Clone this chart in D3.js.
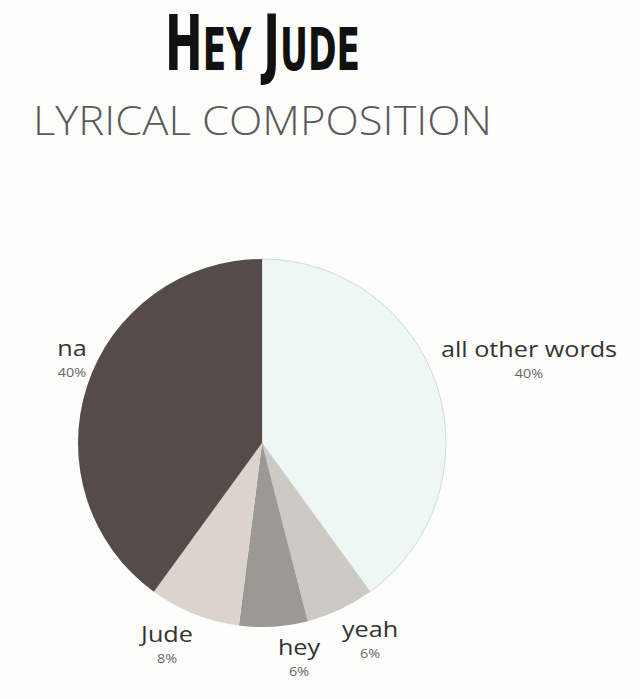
<!DOCTYPE html>
<html lang="en">
<head>
    <meta charset="UTF-8">
    <title>Hey Jude - Lyrical Composition</title>
    <style>
        body { margin: 0; padding: 0; background: #fdfdfb; }
        #chart { width: 640px; height: 699px; }
    </style>
</head>
<body>
    <div id="chart"></div>

    <script src="https://d3js.org/d3.v7.min.js"></script>
    <script>
        // Chart data
        const words = ["all other words", "yeah", "hey", "Jude", "na"];
        const shares = [40, 6, 6, 8, 40];
        const sliceColors = ["#eef7f4", "#cdc9c4", "#9c9893", "#dad4cc", "#554b49"];

        // where each label sits (layout only)
        const labelSpots = {
            "all other words": [529, 357],
            "yeah": [370, 637],
            "hey": [299, 655],
            "Jude": [167, 642],
            "na": [72, 356]
        };

        const width = 640, height = 699;
        const cx = 262, cy = 443, radius = 184;

        const svg = d3.select("#chart").append("svg")
            .attr("width", width)
            .attr("height", height);

        svg.append("rect").attr("width", width).attr("height", height).attr("fill", "#fdfdfb");

        // Title with small caps, squeezed to a narrow face
        const titleG = svg.append("g");
        const title = titleG.append("text")
            .attr("x", 0)
            .attr("y", 0)
            .attr("font-family", "'DejaVu Sans', sans-serif")
            .attr("font-weight", "bold")
            .attr("fill", "#111");
        title.append("tspan").attr("font-size", 76).text("H");
        title.append("tspan").attr("font-size", 58).text("EY ");
        title.append("tspan").attr("font-size", 76).text("J");
        title.append("tspan").attr("font-size", 58).text("UDE");
        const tw = title.node().getComputedTextLength();
        const sx = 195 / tw;
        titleG.attr("transform", `translate(165,70) scale(${sx},1)`);

        svg.append("text")
            .attr("x", 33)
            .attr("y", 135)
            .attr("textLength", 459)
            .attr("lengthAdjust", "spacingAndGlyphs")
            .attr("font-family", "'Open Sans', sans-serif")
            .attr("font-weight", 300)
            .attr("font-size", 41)
            .attr("fill", "#5a5a5a")
            .text("LYRICAL COMPOSITION");

        const data = words.map((w, i) => ({ word: w, share: shares[i], color: sliceColors[i] }));

        const pie = d3.pie().sort(null).value(d => d.share);
        const arc = d3.arc().innerRadius(0).outerRadius(radius);

        const g = svg.append("g").attr("transform", `translate(${cx},${cy})`);

        g.selectAll("path")
            .data(pie(data))
            .enter()
            .append("path")
            .attr("d", arc)
            .attr("fill", d => d.data.color)
            .attr("stroke", d => d.data.word === "all other words" ? "#cfdcdc" : "none")
            .attr("stroke-width", 1);

        // Labels (the source text looks a bit stretched sideways)
        const labels = svg.selectAll(".label")
            .data(data)
            .enter()
            .append("g")
            .attr("class", "label")
            .attr("transform", d => `translate(${labelSpots[d.word][0]},${labelSpots[d.word][1]}) scale(1.2,1)`);

        labels.append("text")
            .attr("text-anchor", "middle")
            .attr("font-family", "'Open Sans', sans-serif")
            .attr("font-size", 21)
            .attr("fill", "#333")
            .text(d => d.word);

        labels.append("text")
            .attr("y", 21)
            .attr("text-anchor", "middle")
            .attr("font-family", "'Open Sans', sans-serif")
            .attr("font-size", 12)
            .attr("fill", "#666")
            .text(d => d.share + "%");
    </script>
</body>
</html>
